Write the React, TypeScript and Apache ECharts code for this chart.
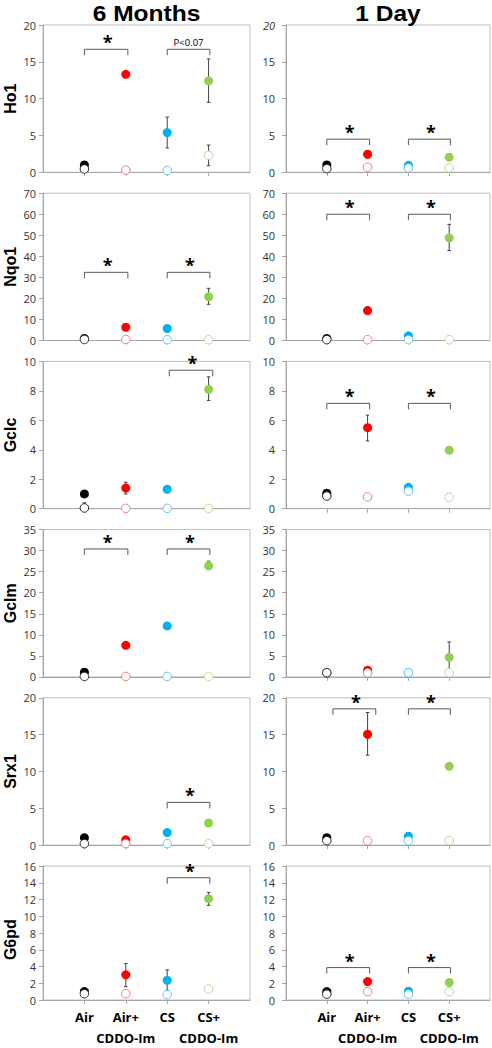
import React, { useEffect, useRef } from 'react';
import * as echarts from 'echarts';

// ---------- data ----------
const genes = ['Ho1', 'Nqo1', 'Gclc', 'Gclm', 'Srx1', 'G6pd'];
const groups = ['Air', 'Air+\nCDDO-Im', 'CS', 'CS+\nCDDO-Im'];
const groupX = [1, 2, 3, 4];
const columnTitles = ['6 Months', '1 Day'];
const yMax = [20, 70, 10, 35, 20, 16];
const yStep = [5, 10, 2, 5, 5, 2];

const filledColors = ['#000000', '#ff0000', '#00b0f0', '#92d050'];
const openColors = ['#262626', '#f07a7a', '#5cc6f0', '#b6dc90'];

// 6 months
const filled6m = [
  [1.0, 13.3, 5.4, 12.4],
  [1.0, 6.3, 5.7, 20.8],
  [1.0, 1.4, 1.32, 8.1],
  [1.1, 7.5, 12.1, 26.4],
  [1.0, 0.72, 1.7, 3.0],
  [1.0, 3.0, 2.35, 12.1],
];
const open6m = [
  [0.45, 0.3, 0.25, 2.3],
  [0.5, 0.5, 0.4, 0.4],
  [0.05, 0.02, 0.02, 0.02],
  [0.1, 0.1, 0.1, 0.1],
  [0.2, 0.2, 0.2, 0.2],
  [0.75, 0.75, 0.65, 1.3],
];
const filledErr6m = [
  [null, null, [3.3, 7.5], [9.5, 15.4]],
  [null, null, null, [17.2, 24.8]],
  [null, [1.0, 1.8], null, [7.35, 8.95]],
  [null, null, null, [25.5, 27.5]],
  [null, null, null, null],
  [null, [1.6, 4.35], [1.15, 3.6], [11.3, 12.85]],
];
const openErr6m = [
  [null, null, null, [0.9, 3.7]],
  [null, null, null, null],
  [[0, 0.4], null, null, null],
  [null, null, null, null],
  [null, null, null, null],
  [null, null, null, null],
];
const brackets6m = [
  [[1, 2.05, 16.7, '*'], [3, 4.03, 16.7, 'P<0.07']],
  [[1, 2.05, 32.4, '*'], [3, 4.03, 32.4, '*']],
  [[3.05, 4.1, 9.4, '*']],
  [[1, 2.05, 30.4, '*'], [3, 4.03, 30.4, '*']],
  [[3, 4.03, 5.8, '*']],
  [[3, 4.03, 14.6, '*']],
];

// 1 day
const filled1d = [
  [1.0, 2.45, 0.95, 2.05],
  [1.0, 14.2, 2.2, 48.8],
  [1.05, 5.5, 1.45, 3.97],
  [1.0, 1.6, 1.0, 4.65],
  [1.0, 15.05, 1.2, 10.7],
  [1.0, 2.2, 1.05, 2.1],
];
const open1d = [
  [0.5, 0.7, 0.6, 0.6],
  [0.4, 0.4, 0.4, 0.4],
  [0.86, 0.8, 1.19, 0.78],
  [1.0, 0.97, 1.0, 1.0],
  [0.6, 0.6, 0.6, 0.6],
  [0.7, 1.0, 0.7, 1.0],
];
const filledErr1d = [
  [null, null, null, null],
  [null, [12.5, 16.0], null, [42.7, 55.2]],
  [null, [4.6, 6.35], null, null],
  [null, null, null, [1.0, 8.3]],
  [null, [12.2, 18.0], null, null],
  [null, null, null, null],
];
const openErr1d = [
  [null, null, null, null],
  [null, null, null, null],
  [null, null, null, null],
  [null, null, null, null],
  [null, null, null, null],
  [null, null, null, null],
];
const brackets1d = [
  [[1, 2.05, 4.5, '*'], [3, 4.03, 4.5, '*']],
  [[1, 2.05, 60, '*'], [3, 4.03, 60, '*']],
  [[1, 2.05, 7.15, '*'], [3, 4.03, 7.15, '*']],
  [],
  [[1.15, 2.2, 18.5, '*'], [3, 4.03, 18.5, '*']],
  [[1, 2.05, 3.87, '*'], [3, 4.03, 3.87, '*']],
];

// ---------- layout ----------
const TOP0 = 25;
const ROW_STEP = 168.2;
const PLOT_H = 147.3;
const COL_LEFT = [43, 286];
const COL_W = [207, 204];
const FONT = '"Open Sans", "Liberation Sans", sans-serif';
const HEAD_FONT = '"Liberation Sans", Arial, sans-serif';

function buildOption() {
  const panels = [
    { filled: filled6m, open: open6m, fErr: filledErr6m, oErr: openErr6m, br: brackets6m },
    { filled: filled1d, open: open1d, fErr: filledErr1d, oErr: openErr1d, br: brackets1d },
  ];
  const grid: any[] = [];
  const xAxis: any[] = [];
  const yAxis: any[] = [];
  const series: any[] = [];

  for (let r = 0; r < genes.length; r++) {
    for (let c = 0; c < 2; c++) {
      const idx = grid.length;
      const p = panels[c];
      grid.push({
        left: COL_LEFT[c],
        top: TOP0 + r * ROW_STEP,
        width: COL_W[c],
        height: PLOT_H,
        show: true,
        borderColor: '#bfbfbf',
        borderWidth: 1,
        backgroundColor: 'transparent',
      });
      xAxis.push({
        gridIndex: idx,
        type: 'value',
        min: 0,
        max: 5,
        interval: 1,
        axisLine: { show: true, onZero: false, lineStyle: { color: '#a6a6a6', width: 1 } },
        axisTick: { show: true, customValues: groupX, length: 4, lineStyle: { color: '#a6a6a6' } },
        splitLine: { show: false },
        axisLabel:
          r === genes.length - 1
            ? {
                show: true,
                customValues: groupX,
                formatter: (v: number) => groups[Math.round(v) - 1] ?? '',
                fontFamily: FONT,
                fontSize: 13,
                fontWeight: 'bold',
                color: '#000',
                lineHeight: 21,
                margin: 6,
              }
            : { show: false },
      });
      yAxis.push({
        gridIndex: idx,
        type: 'value',
        min: 0,
        max: yMax[r],
        interval: yStep[r],
        axisLine: { show: true, lineStyle: { color: '#a6a6a6', width: 1 } },
        axisTick: { show: true, length: 4, lineStyle: { color: '#a6a6a6' } },
        splitLine: { show: false },
        axisLabel: {
          fontFamily: FONT,
          fontSize: 11,
          color: '#333',
          margin: c === 0 ? 7 : 11,
          formatter: (v: number) => (r === 0 && c === 1 && v === yMax[r] ? '{i|' + v + '}' : String(v)),
          rich: { i: { fontStyle: 'italic', fontFamily: FONT, fontSize: 11, color: '#333' } },
        },
      });

      // error bars
      const errData: number[][] = [];
      for (let g = 0; g < 4; g++) {
        const fe = p.fErr[r][g] as number[] | null;
        if (fe) errData.push([groupX[g], fe[0], fe[1]]);
        const oe = p.oErr[r][g] as number[] | null;
        if (oe) errData.push([groupX[g], oe[0], oe[1]]);
      }
      series.push({
        type: 'custom',
        xAxisIndex: idx,
        yAxisIndex: idx,
        silent: true,
        z: 1,
        encode: { x: 0, y: [1, 2] },
        data: errData,
        renderItem: (params: any, api: any) => {
          const x = api.value(0);
          const lo = api.coord([x, api.value(1)]);
          const hi = api.coord([x, api.value(2)]);
          const cw = 1.8;
          const st = { stroke: '#404040', lineWidth: 1 };
          return {
            type: 'group',
            children: [
              { type: 'line', shape: { x1: lo[0], y1: lo[1], x2: hi[0], y2: hi[1] }, style: st },
              { type: 'line', shape: { x1: lo[0] - cw, y1: lo[1], x2: lo[0] + cw, y2: lo[1] }, style: st },
              { type: 'line', shape: { x1: hi[0] - cw, y1: hi[1], x2: hi[0] + cw, y2: hi[1] }, style: st },
            ],
          };
        },
      });

      // filled circles
      series.push({
        type: 'scatter',
        xAxisIndex: idx,
        yAxisIndex: idx,
        silent: true,
        z: 2,
        symbol: 'circle',
        symbolSize: 9,
        data: p.filled[r].map((v, g) => ({
          value: [groupX[g], v],
          itemStyle: { color: filledColors[g], borderWidth: 0, opacity: 1 },
        })),
      });

      // open circles
      series.push({
        type: 'scatter',
        xAxisIndex: idx,
        yAxisIndex: idx,
        silent: true,
        z: 3,
        symbol: 'circle',
        symbolSize: 8.5,
        data: p.open[r].map((v, g) => ({
          value: [groupX[g], v],
          itemStyle: { color: '#ffffff', borderColor: openColors[g], borderWidth: 1, opacity: 1 },
        })),
      });

      // significance brackets
      const br = p.br[r] as any[];
      series.push({
        type: 'custom',
        xAxisIndex: idx,
        yAxisIndex: idx,
        silent: true,
        z: 4,
        encode: { x: [0, 1], y: 2 },
        data: br.map((b) => [b[0], b[1], b[2]]),
        renderItem: (params: any, api: any) => {
          const b = br[params.dataIndex];
          const p1 = api.coord([api.value(0), api.value(2)]);
          const p2 = api.coord([api.value(1), api.value(2)]);
          const drop = 6;
          const star = b[3] === '*';
          return {
            type: 'group',
            children: [
              {
                type: 'polyline',
                shape: {
                  points: [
                    [p1[0], p1[1] + drop],
                    [p1[0], p1[1]],
                    [p2[0], p2[1]],
                    [p2[0], p2[1] + drop],
                  ],
                },
                style: { stroke: '#595959', lineWidth: 1, fill: 'none' },
              },
              {
                type: 'text',
                x: (p1[0] + p2[0]) / 2 + (star ? 1.5 : 0),
                y: star ? p1[1] + 2 : p1[1] - 2,
                style: {
                  text: b[3],
                  fill: '#000',
                  fontFamily: FONT,
                  fontSize: star ? 18 : 9.5,
                  fontWeight: star ? 'bold' : 'normal',
                  align: 'center',
                  verticalAlign: 'bottom',
                },
              },
            ],
          };
        },
      });
    }
  }

  const graphic: any[] = [
    ...columnTitles.map((t, c) => ({
      type: 'text',
      x: COL_LEFT[c] + COL_W[c] / 2,
      y: 13.5,
      scaleX: 1.14,
      style: {
        text: t,
        fill: '#000',
        fontFamily: HEAD_FONT,
        fontSize: 21.5,
        fontWeight: 'bold',
        align: 'center',
        verticalAlign: 'middle',
      },
    })),
    ...genes.map((g, r) => ({
      type: 'text',
      x: 10,
      y: TOP0 + r * ROW_STEP + PLOT_H / 2,
      rotation: Math.PI / 2,
      scaleY: 1.08,
      style: {
        text: g,
        fill: '#000',
        fontFamily: HEAD_FONT,
        fontSize: 16,
        fontWeight: 'bold',
        align: 'center',
        verticalAlign: 'middle',
      },
    })),
  ];

  return {
    animation: false,
    backgroundColor: '#ffffff',
    textStyle: { fontFamily: FONT },
    grid,
    xAxis,
    yAxis,
    series,
    graphic,
  };
}

export default function App() {
  const ref = useRef<HTMLDivElement>(null);
  useEffect(() => {
    if (!ref.current) return;
    const chart = echarts.init(ref.current, undefined, { renderer: 'svg' });
    chart.setOption(buildOption() as any);
    return () => chart.dispose();
  }, []);
  return (
    <div
      ref={ref}
      style={{ position: 'absolute', left: 0, top: 0, width: 492, height: 1048, background: '#fff' }}
    />
  );
}
